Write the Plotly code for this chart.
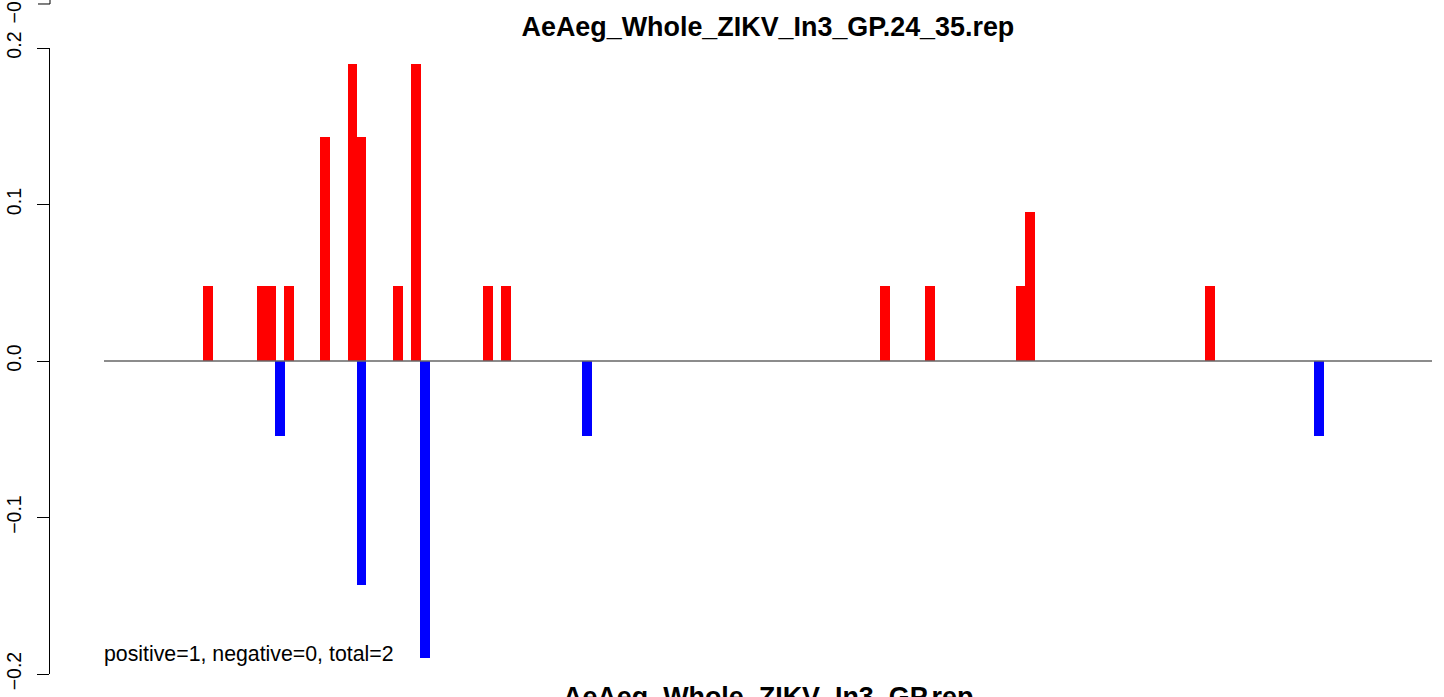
import plotly.graph_objects as go

# ---- data ----
title_text = "AeAeg_Whole_ZIKV_In3_GP.24_35.rep"
next_title_text = "AeAeg_Whole_ZIKV_In3_GP.rep"
note_text = "positive=1, negative=0, total=2"

pos_positions = [6, 12, 13, 15, 19, 22, 23, 27, 29, 37, 39, 81, 86, 96, 97, 117]
pos_values = [0.048, 0.048, 0.048, 0.048, 0.143, 0.190, 0.143, 0.048, 0.190,
              0.048, 0.048, 0.048, 0.048, 0.048, 0.095, 0.048]

neg_positions = [14, 23, 30, 48, 129]
neg_values = [-0.048, -0.143, -0.190, -0.048, -0.048]

y_tickvals = [-0.2, -0.1, 0.0, 0.1, 0.2]
y_ticktext = ["\u22120.2", "\u22120.1", "0.0", "0.1", "0.2"]

x_range = [-11.5, 141.55]
x_line = [-5.52, 141.55]
y_range = [-0.2, 0.2]

FONT = "Liberation Sans, Arial, Helvetica, sans-serif"

fig = go.Figure()
fig.add_trace(go.Bar(x=pos_positions, y=pos_values, width=1.1,
                     marker=dict(color="#ff0000", line=dict(width=0)),
                     showlegend=False, hoverinfo="x+y"))
fig.add_trace(go.Bar(x=neg_positions, y=neg_values, width=1.1,
                     marker=dict(color="#0000ff", line=dict(width=0)),
                     showlegend=False, hoverinfo="x+y"))

# zero line across the data region
fig.add_shape(type="line", xref="x", yref="y", x0=x_line[0], x1=x_line[1], y0=0, y1=0,
              line=dict(color="#666666", width=1.3), layer="above")

# remnant of the panel above (its axis end and tick)
fig.add_shape(type="line", xref="paper", yref="paper",
              x0=0, x1=0, y0=1.0703, y1=1.09, line=dict(color="black", width=1))
fig.add_shape(type="line", xref="paper", yref="paper",
              x0=-0.00868, x1=0, y0=1.0703, y1=1.0703, line=dict(color="black", width=1))
fig.add_annotation(text="\u22120.2", xref="paper", yref="paper", x=-0.0264, y=1.0703,
                   textangle=-90, showarrow=False, xanchor="center", yanchor="middle",
                   font=dict(family=FONT, size=19.5, color="black"))

# note text
fig.add_annotation(text=note_text, xref="x", yref="y", x=-5.74, y=-0.1872,
                   showarrow=False, xanchor="left", yanchor="middle",
                   font=dict(family=FONT, size=21.3, color="black"))

# title of the panel below (cut off)
fig.add_annotation(text="<b>" + next_title_text + "</b>", xref="paper", yref="paper",
                   x=0.5195, y=-0.0367, showarrow=False, xanchor="center", yanchor="middle",
                   font=dict(family=FONT, size=26.9, color="black"))

fig.update_layout(
    width=1444, height=697,
    margin=dict(l=50, r=12, t=48, b=23, pad=0, autoexpand=False),
    paper_bgcolor="white", plot_bgcolor="white",
    barmode="overlay", bargap=0,
    title=dict(text="<b>" + title_text + "</b>", x=0.5195, xref="paper", xanchor="center",
               y=1 - 27 / 697, yref="container", yanchor="middle",
               font=dict(family=FONT, size=26.9, color="black")),
    xaxis=dict(range=x_range, showgrid=False, zeroline=False, showline=False,
               showticklabels=False, ticks="", automargin=False),
    yaxis=dict(range=y_range, showgrid=False, zeroline=False, showline=True,
               linecolor="black", linewidth=1, ticks="outside", ticklen=12,
               tickwidth=1, tickcolor="black", tickvals=y_tickvals, ticktext=y_ticktext,
               tickangle=-90, ticklabelstandoff=8, automargin=False,
               tickfont=dict(family=FONT, size=19.5, color="black")),
)

fig.write_html("out.html", config={"displayModeBar": False},
               post_script="document.body.style.margin='0px';document.body.style.overflow='hidden';")
